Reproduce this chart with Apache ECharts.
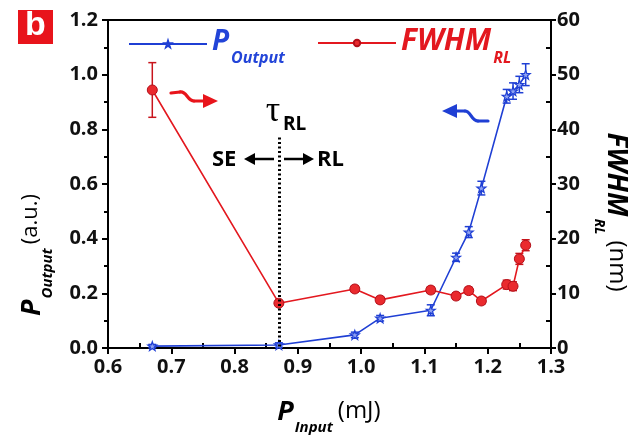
<!DOCTYPE html>
<html>
<head>
<meta charset="utf-8">
<script src="https://cdn.jsdelivr.net/npm/echarts@6/dist/echarts.min.js"></script>
<style>
  html, body { margin: 0; padding: 0; background: #fff; }
  #chart { width: 628px; height: 437px; }
</style>
</head>
<body>
<div id="chart"></div>
<script>
// Input pulse energy (mJ) for each measurement
const pInput = [0.67, 0.87, 0.99, 1.03, 1.11, 1.15, 1.17, 1.19, 1.23, 1.24, 1.25, 1.26];
// Normalised output power (a.u.) and its error
const pOutput = [0.007, 0.011, 0.048, 0.109, 0.138, 0.332, 0.424, 0.585, 0.921, 0.940, 0.964, 1.000];
const pOutputErr = [0.006, 0.008, 0.010, 0.010, 0.020, 0.015, 0.020, 0.025, 0.025, 0.030, 0.030, 0.040];
// Emission linewidth FWHM (nm) and its error
const fwhm = [47.2, 8.2, 10.8, 8.8, 10.6, 9.5, 10.5, 8.6, 11.6, 11.3, 16.3, 18.8];
const fwhmErr = [5.0, 0.5, 0.6, 0.6, 0.6, 0.6, 0.6, 0.6, 0.8, 0.8, 1.0, 1.0];
// Lasing threshold and axis ranges
const thresholdX = 0.87;
const thresholdTop = 0.77;
const xRange = [0.6, 1.3, 0.1];
const yLeftRange = [0, 1.2, 0.2];
const yRightRange = [0, 60, 10];

const BLUE = '#1f3fd4';
const RED = '#e3181f';
const FONT = '"Open Sans", "Liberation Sans", sans-serif';
const STAR = 'path://M0,-10 L2.35,-3.24 L9.51,-3.09 L3.8,1.24 L5.88,8.09 L0,4 L-5.88,8.09 L-3.8,1.24 L-9.51,-3.09 L-2.35,-3.24 Z';

const chart = echarts.init(document.getElementById('chart'), null, { renderer: 'canvas' });

const pData = pInput.map((x, i) => [x, pOutput[i]]);
const fData = pInput.map((x, i) => [x, fwhm[i]]);
const pErrData = pInput.map((x, i) => [x, pOutput[i] - pOutputErr[i], pOutput[i] + pOutputErr[i]]);
const fErrData = pInput.map((x, i) => [x, fwhm[i] - fwhmErr[i], fwhm[i] + fwhmErr[i]]);

function errorBars(color, cap) {
  return function (params, api) {
    const x = api.value(0);
    const lo = api.coord([x, api.value(1)]);
    const hi = api.coord([x, api.value(2)]);
    const style = { stroke: color, lineWidth: 1.5 };
    return {
      type: 'group',
      children: [
        { type: 'line', shape: { x1: lo[0], y1: lo[1], x2: hi[0], y2: hi[1] }, style },
        { type: 'line', shape: { x1: lo[0] - cap, y1: lo[1], x2: lo[0] + cap, y2: lo[1] }, style },
        { type: 'line', shape: { x1: hi[0] - cap, y1: hi[1], x2: hi[0] + cap, y2: hi[1] }, style }
      ]
    };
  };
}

// wavy pointer: straight start, S-bend, straight end, then a triangular head
function wavyArrow(color, pts, head) {
  const st = { stroke: color, lineWidth: 3.2, fill: null, lineCap: 'round' };
  return [
    { type: 'line', shape: { x1: pts[0][0], y1: pts[0][1], x2: pts[1][0], y2: pts[1][1] }, style: st },
    { type: 'bezierCurve', shape: { x1: pts[1][0], y1: pts[1][1], cpx1: pts[2][0], cpy1: pts[2][1], cpx2: pts[3][0], cpy2: pts[3][1], x2: pts[4][0], y2: pts[4][1] }, style: st },
    { type: 'line', shape: { x1: pts[4][0], y1: pts[4][1], x2: pts[5][0], y2: pts[5][1] }, style: st },
    { type: 'polygon', shape: { points: head }, style: { fill: color } }
  ];
}

const axisLine = { show: true, lineStyle: { color: '#000', width: 2 } };
const labelStyle = { color: '#111', fontSize: 20, fontWeight: 'bold', fontFamily: FONT };

const subRich = (color, big, small) => ({
  m: { fontSize: big, fontWeight: 'bold', fontStyle: 'italic', color, fontFamily: FONT, verticalAlign: 'top', lineHeight: big + 4 },
  s: { fontSize: small, fontWeight: 'bold', fontStyle: 'italic', color, fontFamily: FONT, verticalAlign: 'top', lineHeight: small + 2, padding: [Math.round(big * 0.8), 0, 0, 2] }
});

const option = {
  animation: false,
  backgroundColor: '#fff',
  grid: { left: 108, right: 77, top: 20, bottom: 89, show: true, borderColor: '#000', borderWidth: 2 },
  legend: [
    {
      data: ['P'], left: 123, top: 23, itemWidth: 78, itemHeight: 8, itemGap: 0,
      formatter: () => '{m|P}{s|Output}',
      textStyle: { rich: subRich('#2244d8', 28, 16) }
    },
    {
      data: ['FWHM'], left: 312, top: 21, itemWidth: 78, itemHeight: 8, itemGap: 0,
      formatter: () => '{m|FWHM}{s|RL}',
      textStyle: { rich: subRich(RED, 30, 16) }
    }
  ],
  xAxis: {
    type: 'value', min: xRange[0], max: xRange[1], interval: xRange[2],
    axisLine, splitLine: { show: false },
    axisTick: { length: 6, lineStyle: { width: 2, color: '#000' } },
    minorTick: { show: true, splitNumber: 2, length: -5, lineStyle: { width: 2, color: '#000' } },
    axisLabel: Object.assign({ margin: 9, formatter: v => v.toFixed(1) }, labelStyle)
  },
  yAxis: [
    {
      type: 'value', min: yLeftRange[0], max: yLeftRange[1], interval: yLeftRange[2], position: 'left',
      axisLine, splitLine: { show: false },
      axisTick: { length: 6, lineStyle: { width: 2, color: '#000' } },
      minorTick: { show: true, splitNumber: 2, length: 4, lineStyle: { width: 2, color: '#000' } },
      axisLabel: Object.assign({ margin: 10, formatter: v => v.toFixed(1) }, labelStyle)
    },
    {
      type: 'value', min: yRightRange[0], max: yRightRange[1], interval: yRightRange[2], position: 'right',
      axisLine, splitLine: { show: false },
      axisTick: { length: 5, lineStyle: { width: 2, color: '#000' } },
      minorTick: { show: true, splitNumber: 2, length: -5, lineStyle: { width: 2, color: '#000' } },
      axisLabel: Object.assign({ margin: 6 }, labelStyle)
    }
  ],
  series: [
    {
      name: 'P-err', type: 'custom', xAxisIndex: 0, yAxisIndex: 0, z: 1, silent: true,
      data: pErrData, encode: { x: 0, y: [1, 2] }, renderItem: errorBars(BLUE, 4)
    },
    {
      name: 'FWHM-err', type: 'custom', xAxisIndex: 0, yAxisIndex: 1, z: 1, silent: true,
      data: fErrData, encode: { x: 0, y: [1, 2] }, renderItem: errorBars('#c8141c', 4)
    },
    {
      name: 'P', type: 'line', yAxisIndex: 0, z: 3, data: pData,
      symbol: STAR, symbolSize: 9,
      lineStyle: { color: BLUE, width: 1.6 },
      itemStyle: { color: '#8fa2f2', borderColor: BLUE, borderWidth: 1.2 },
      emphasis: { disabled: true },
      markLine: {
        silent: true, symbol: 'none', label: { show: false },
        lineStyle: { color: '#000', width: 3, type: [2, 2.5] },
        data: [[{ coord: [thresholdX, thresholdTop] }, { coord: [thresholdX, 0] }]]
      }
    },
    {
      name: 'FWHM', type: 'line', yAxisIndex: 1, z: 4, data: fData,
      symbol: 'circle', symbolSize: 10,
      lineStyle: { color: RED, width: 1.6 },
      itemStyle: { color: '#ea2a2e', borderColor: '#b3101a', borderWidth: 1 },
      emphasis: { disabled: true }
    }
  ],
  graphic: [
    // panel tag
    { type: 'rect', shape: { x: 18, y: 10, width: 35, height: 34 }, style: { fill: '#e8141b' } },
    { type: 'text', x: 35.5, y: 26, style: { text: 'b', fill: '#fff', font: 'bold 34px "Liberation Sans", sans-serif', align: 'center', verticalAlign: 'middle' } },
    // threshold label
    { type: 'text', x: 273, y: 112, style: { text: 'τ', fill: '#000', font: '36px "Liberation Serif", serif', align: 'center', verticalAlign: 'middle' } },
    { type: 'text', x: 283, y: 125, style: { text: 'RL', fill: '#000', font: 'bold 19px ' + FONT, align: 'left', verticalAlign: 'middle' } },
    { type: 'text', x: 212, y: 160, style: { text: 'SE', fill: '#000', font: 'bold 22px ' + FONT, align: 'left', verticalAlign: 'middle' } },
    { type: 'text', x: 317, y: 160, style: { text: 'RL', fill: '#000', font: 'bold 22px ' + FONT, align: 'left', verticalAlign: 'middle' } },
    { type: 'line', shape: { x1: 274, y1: 159, x2: 252, y2: 159 }, style: { stroke: '#000', lineWidth: 2.5 } },
    { type: 'polygon', shape: { points: [[244, 159], [255, 153], [255, 165]] }, style: { fill: '#000' } },
    { type: 'line', shape: { x1: 284, y1: 159, x2: 305, y2: 159 }, style: { stroke: '#000', lineWidth: 2.5 } },
    { type: 'polygon', shape: { points: [[314, 159], [303, 153], [303, 165]] }, style: { fill: '#000' } }
  ]
    // pointers toward the right and left axes
    .concat(wavyArrow('#e8141b', [[171, 93], [180, 92], [187, 91], [187, 101], [194, 101], [205, 101]], [[218, 101], [203, 94], [203, 108]]))
    .concat(wavyArrow(BLUE, [[488, 121], [478, 121], [471, 121], [471, 111], [465, 111], [455, 111]], [[442, 111], [457, 104], [457, 118]]))
    .concat([
    // axis titles
    {
      type: 'text', x: 34, y: 255, rotation: Math.PI / 2,
      style: {
        text: '{m|P}{s|Output}{u|(a.u.)}', align: 'center', verticalAlign: 'middle',
        rich: {
          m: { fontSize: 27, fontWeight: 'bold', fontStyle: 'italic', fill: '#000', fontFamily: FONT, verticalAlign: 'top', lineHeight: 30 },
          s: { fontSize: 15, fontWeight: 'bold', fontStyle: 'italic', fill: '#000', fontFamily: FONT, verticalAlign: 'top', lineHeight: 16, padding: [21, 4, 0, 1] },
          u: { fontSize: 22, fill: '#000', fontFamily: FONT, verticalAlign: 'top', lineHeight: 30, padding: [1, 0, 0, 0] }
        }
      }
    },
    {
      type: 'text', x: 614, y: 212, rotation: -Math.PI / 2,
      style: {
        text: '{m|FWHM}{s|RL}{u|(nm)}', align: 'center', verticalAlign: 'middle',
        rich: {
          m: { fontSize: 28, fontWeight: 'bold', fontStyle: 'italic', fill: '#000', fontFamily: FONT, verticalAlign: 'top', lineHeight: 32 },
          s: { fontSize: 14, fontWeight: 'bold', fontStyle: 'italic', fill: '#000', fontFamily: FONT, verticalAlign: 'top', lineHeight: 15, padding: [24, 6, 0, 2] },
          u: { fontSize: 24, fill: '#000', fontFamily: FONT, verticalAlign: 'top', lineHeight: 32, padding: [1, 0, 0, 0] }
        }
      }
    },
    {
      type: 'text', x: 329, y: 414,
      style: {
        text: '{m|P}{s|Input}{u|(mJ)}', align: 'center', verticalAlign: 'middle',
        rich: {
          m: { fontSize: 27, fontWeight: 'bold', fontStyle: 'italic', fill: '#000', fontFamily: FONT, verticalAlign: 'top', lineHeight: 30 },
          s: { fontSize: 15, fontWeight: 'bold', fontStyle: 'italic', fill: '#000', fontFamily: FONT, verticalAlign: 'top', lineHeight: 16, padding: [21, 5, 0, 1] },
          u: { fontSize: 24, fill: '#000', fontFamily: FONT, verticalAlign: 'top', lineHeight: 30, padding: [0, 0, 0, 0] }
        }
      }
    }
  ])
};

chart.setOption(option);
</script>
</body>
</html>
